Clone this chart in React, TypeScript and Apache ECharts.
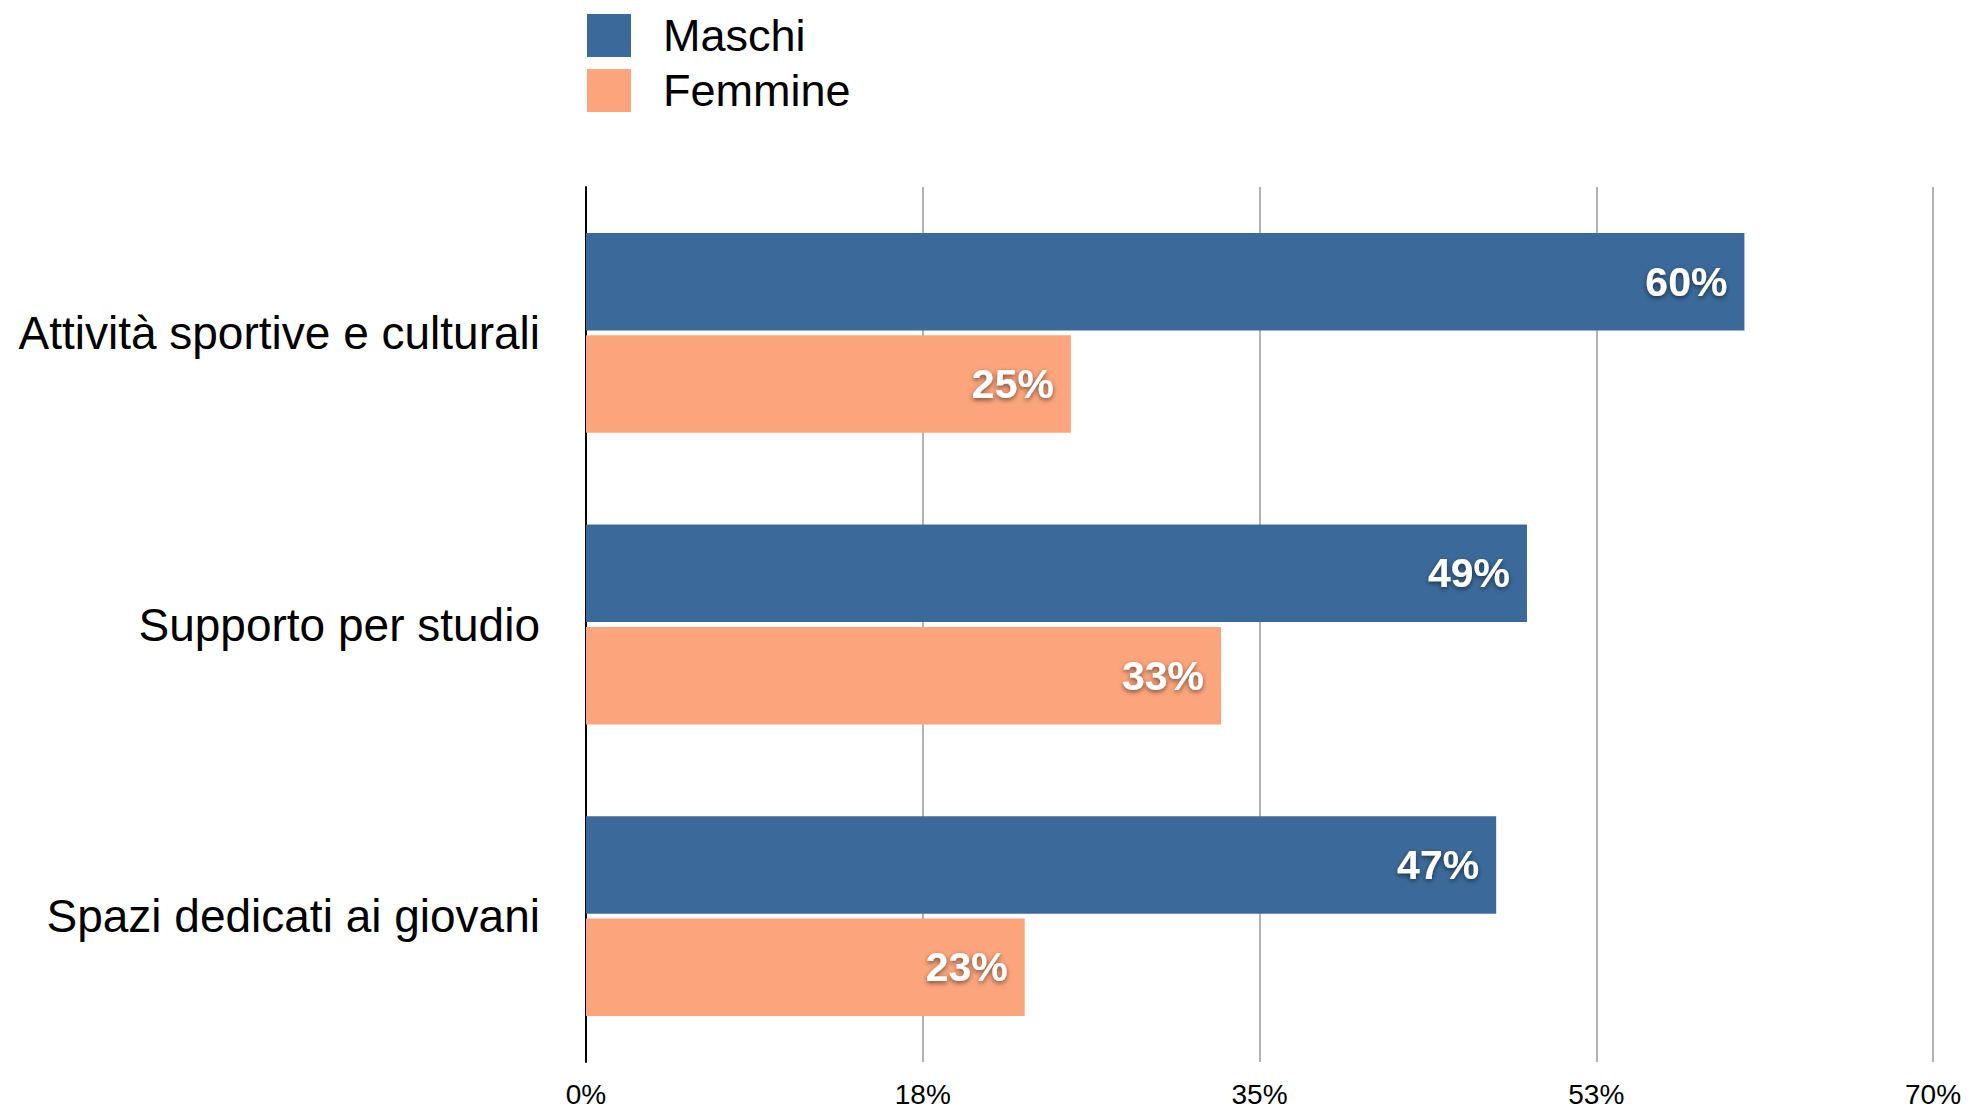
import React, { useEffect, useRef } from "react";
import * as echarts from "echarts";

const categories = ["Attività sportive e culturali", "Supporto per studio", "Spazi dedicati ai giovani"];
const maschi = [60.2, 48.9, 47.3];
const femmine = [25.2, 33.0, 22.8];
const seriesNames = ["Maschi", "Femmine"];
const axisMax = 70;
const axisInterval = 17.5;

const FONT = '"Liberation Sans", Arial, Helvetica, sans-serif';

export default function App() {
  const ref = useRef<HTMLDivElement>(null);
  useEffect(() => {
    document.body.style.margin = "0";
    const chart = echarts.init(ref.current!, undefined, { renderer: "svg" });
    const label = {
      show: true,
      position: "insideRight",
      distance: 17,
      color: "#ffffff",
      fontFamily: FONT,
      fontWeight: "bold",
      fontSize: 41,
      textShadowColor: "rgba(0,0,0,0.55)",
      textShadowBlur: 5,
      textShadowOffsetY: 2,
      formatter: (p: any) => Math.round(p.value) + "%",
    };
    chart.setOption({
      animation: false,
      textStyle: { fontFamily: FONT },
      legend: {
        orient: "vertical",
        left: 587,
        top: 13,
        padding: 0,
        itemWidth: 44,
        itemHeight: 43,
        itemGap: 10,
        icon: "rect",
        data: seriesNames,
        textStyle: { fontSize: 45, color: "#000", fontFamily: FONT, padding: [0, 0, 0, 27] },
      },
      grid: { left: 586, right: 49, top: 187, bottom: 45, containLabel: false },
      xAxis: {
        type: "value",
        min: 0,
        max: axisMax,
        interval: axisInterval,
        axisLine: { show: false },
        axisTick: { show: false },
        splitLine: { show: true, lineStyle: { color: "#b3b3b3", width: 2 } },
        axisLabel: {
          margin: 18,
          fontSize: 28,
          color: "#000",
          fontFamily: FONT,
          formatter: (v: number) => Math.round(v) + "%",
        },
      },
      yAxis: {
        type: "category",
        data: categories,
        inverse: true,
        axisLine: { show: true, lineStyle: { color: "#000", width: 2 } },
        axisTick: { show: false },
        axisLabel: { margin: 46, fontSize: 46, color: "#000", fontFamily: FONT },
      },
      series: [
        {
          name: seriesNames[0],
          type: "bar",
          data: maschi,
          itemStyle: { color: "#3b6a9a" },
          barCategoryGap: "31.5%",
          barGap: "5%",
          label,
        },
        {
          name: seriesNames[1],
          type: "bar",
          data: femmine,
          itemStyle: { color: "#fca57c" },
          barCategoryGap: "31.5%",
          barGap: "5%",
          label,
        },
      ],
    });
    return () => chart.dispose();
  }, []);
  return <div ref={ref} style={{ position: "absolute", left: 0, top: 0, width: 1982, height: 1108 }} />;
}
